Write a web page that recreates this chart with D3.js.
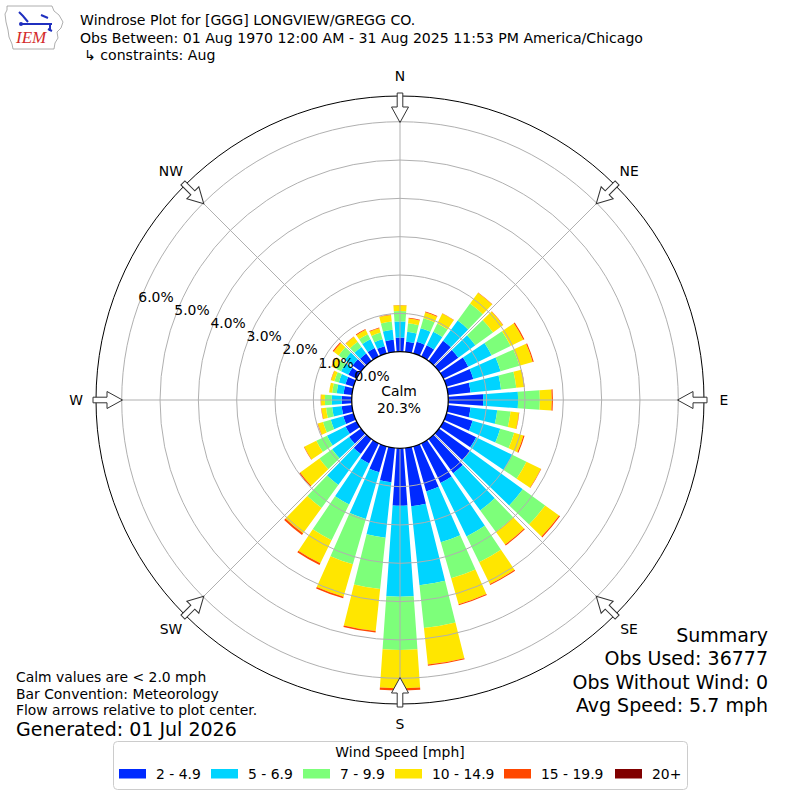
<!DOCTYPE html>
<html>
<head>
<meta charset="utf-8">
<script src="https://cdn.jsdelivr.net/npm/d3@7"></script>
<style>
  body { margin: 0; background: #fff; }
  svg { display: block; font-family: "DejaVu Sans", sans-serif; }
</style>
</head>
<body>
<svg id="chart" width="800" height="800"></svg>
<script>
// direction bins in degrees (meteorological, wind from)
const directions = d3.range(0, 360, 10);
const speedBins = ["2 - 4.9", "5 - 6.9", "7 - 9.9", "10 - 14.9", "15 - 19.9", "20+"];
const binColors = ["#002aff", "#00d4ff", "#7dff7a", "#ffe600", "#ff4800", "#800000"];

// frequency (%) per direction, one array per speed bin
const pct2to5 = [0.37, 0.27, 0.32, 0.33, 0.65, 0.62, 0.72, 0.73, 0.59, 0.91, 0.59, 0.71,
                 0.95, 1.00, 1.10, 1.15, 1.22, 1.53, 1.50, 0.90, 0.70, 0.58, 0.48, 0.38,
                 0.32, 0.28, 0.27, 0.26, 0.22, 0.22, 0.24, 0.27, 0.24, 0.25, 0.20, 0.32];
const pct5to7 = [0.42, 0.26, 0.37, 0.39, 0.65, 0.55, 0.68, 0.74, 0.80, 0.91, 0.70, 0.75,
                 1.05, 1.70, 1.20, 1.55, 1.38, 2.07, 2.37, 1.45, 1.27, 1.19, 1.00, 0.55,
                 0.54, 0.34, 0.25, 0.26, 0.18, 0.18, 0.21, 0.25, 0.21, 0.25, 0.19, 0.26];
const pct7to10 = [0.27, 0.22, 0.27, 0.24, 0.55, 0.57, 0.55, 0.51, 0.40, 0.57, 0.35, 0.38,
                  0.41, 0.72, 0.69, 0.75, 0.98, 1.12, 1.39, 1.35, 1.23, 1.04, 0.74, 0.41,
                  0.31, 0.21, 0.16, 0.18, 0.12, 0.12, 0.15, 0.20, 0.17, 0.15, 0.18, 0.22];
const pct10to15 = [0.15, 0.13, 0.16, 0.29, 0.35, 0.32, 0.37, 0.36, 0.21, 0.31, 0.22, 0.25,
                   0.42, 0.45, 0.41, 0.63, 0.70, 0.96, 1.00, 1.10, 0.88, 0.67, 0.82, 0.62,
                   0.35, 0.14, 0.12, 0.10, 0.08, 0.09, 0.12, 0.16, 0.16, 0.13, 0.12, 0.17];
const pct15to20 = [0.01, 0.02, 0.02, 0.01, 0.01, 0.01, 0.03, 0.03, 0.01, 0.03, 0.01, 0.03,
                   0.01, 0.03, 0.03, 0.03, 0.03, 0.03, 0.06, 0.04, 0.04, 0.05, 0.05, 0.03,
                   0.01, 0.01, 0.01, 0.01, 0.00, 0.01, 0.01, 0.03, 0.01, 0.02, 0.02, 0.01];
const pct20plus = [0, 0, 0, 0, 0, 0, 0, 0, 0, 0, 0, 0,
                   0, 0, 0, 0, 0, 0, 0, 0, 0, 0, 0, 0,
                   0, 0, 0, 0, 0, 0, 0, 0, 0, 0, 0, 0];

const radialTicks = [0, 1, 2, 3, 4, 5, 6];
const compassLabels = ["N", "NE", "E", "SE", "S", "SW", "W", "NW"];
const calmPct = 20.3;

const titleLines = [
  "Windrose Plot for [GGG] LONGVIEW/GREGG CO.",
  "Obs Between: 01 Aug 1970 12:00 AM - 31 Aug 2025 11:53 PM America/Chicago"
];
const constraintLine = "\u21b3 constraints: Aug";
const footLeft = ["Calm values are < 2.0 mph", "Bar Convention: Meteorology",
                  "Flow arrows relative to plot center."];
const generated = "Generated: 01 Jul 2026";
const summaryLines = ["Summary", "Obs Used: 36777", "Obs Without Wind: 0", "Avg Speed: 5.7 mph"];

// ---- layout
const svg = d3.select("#chart");
const cx = 400, cy = 400;
const calmR = 48.3;
const frameR = 304;
const rScale = d3.scaleLinear().domain([0, 6]).range([calmR, 278.3]);
const rad = deg => deg * Math.PI / 180;
const halfWidth = 4; // degrees each side of bin centre

const seriesArrays = [pct2to5, pct5to7, pct7to10, pct10to15, pct15to20, pct20plus];
const rows = directions.map((dir, i) => {
  const row = { dir };
  speedBins.forEach((k, j) => { row[k] = seriesArrays[j][i]; });
  return row;
});
const stacked = d3.stack().keys(speedBins)(rows);
const color = d3.scaleOrdinal().domain(speedBins).range(binColors);

const plot = svg.append("g").attr("transform", `translate(${cx},${cy})`);

// bars
const arc = d3.arc()
  .innerRadius(d => rScale(d[0]))
  .outerRadius(d => rScale(d[1]))
  .startAngle(d => rad(d.data.dir - halfWidth))
  .endAngle(d => rad(d.data.dir + halfWidth));

plot.selectAll("g.layer")
  .data(stacked)
  .join("g")
  .attr("class", "layer")
  .attr("fill", d => color(d.key))
  .selectAll("path")
  .data(d => d.filter(s => s[1] - s[0] > 0))
  .join("path")
  .attr("d", arc);

// grid rings and spokes (drawn over the bars)
plot.selectAll("circle.ring")
  .data(radialTicks.filter(t => t > 0))
  .join("circle")
  .attr("class", "ring")
  .attr("r", d => rScale(d))
  .attr("fill", "none")
  .attr("stroke", "#b0b0b0")
  .attr("stroke-width", 1);

plot.selectAll("line.spoke")
  .data(compassLabels.map((_, i) => i * 45))
  .join("line")
  .attr("class", "spoke")
  .attr("x1", 0).attr("y1", 0)
  .attr("x2", d => frameR * Math.sin(rad(d)))
  .attr("y2", d => -frameR * Math.cos(rad(d)))
  .attr("stroke", "#b0b0b0")
  .attr("stroke-width", 1);

// frame
plot.append("circle")
  .attr("r", frameR)
  .attr("fill", "none")
  .attr("stroke", "#000")
  .attr("stroke-width", 1);

// calm circle
plot.append("circle")
  .attr("r", calmR)
  .attr("fill", "#fff")
  .attr("stroke", "#000")
  .attr("stroke-width", 1.3);

plot.append("text")
  .attr("x", -1).attr("y", -4)
  .attr("text-anchor", "middle")
  .attr("font-size", 13.9)
  .text("Calm");
plot.append("text")
  .attr("x", -1).attr("y", 13)
  .attr("text-anchor", "middle")
  .attr("font-size", 13.9)
  .text(d3.format(".1f")(calmPct) + "%");

// radial tick labels
const labAng = rad(20);
plot.selectAll("text.rlab")
  .data(radialTicks)
  .join("text")
  .attr("class", "rlab")
  .attr("x", d => -rScale(d) * Math.cos(labAng) + 17.5)
  .attr("y", d => -rScale(d) * Math.sin(labAng) - 7.8)
  .attr("dy", "0.36em")
  .attr("text-anchor", "middle")
  .attr("font-size", 13.9)
  .text(d => d3.format(".1f")(d) + "%");

// flow arrows pointing toward the centre
const arrowPts = [[-2.8, -307], [2.8, -307], [2.8, -293], [8.5, -293], [0, -277.5],
                  [-8.5, -293], [-2.8, -293]];
plot.selectAll("path.arrow")
  .data(compassLabels.map((_, i) => i * 45))
  .join("path")
  .attr("class", "arrow")
  .attr("d", d3.line()(arrowPts) + "Z")
  .attr("transform", d => `rotate(${d})`)
  .attr("fill", "#fff")
  .attr("stroke", "#333")
  .attr("stroke-width", 1);

// compass labels
plot.selectAll("text.compass")
  .data(compassLabels)
  .join("text")
  .attr("class", "compass")
  .attr("x", (d, i) => 324 * Math.sin(rad(i * 45)))
  .attr("y", (d, i) => -324 * Math.cos(rad(i * 45)))
  .attr("dy", "0.36em")
  .attr("text-anchor", "middle")
  .attr("font-size", 13.9)
  .text(d => d);

// ---- header
svg.selectAll("text.title")
  .data(titleLines)
  .join("text")
  .attr("class", "title")
  .attr("x", 80)
  .attr("y", (d, i) => 25 + i * 17.5)
  .attr("font-size", 14.1)
  .text(d => d);
svg.append("text")
  .attr("x", 84).attr("y", 59.5)
  .attr("font-size", 14.1)
  .text(constraintLine);

// IEM logo (simplified)
const logo = svg.append("g");
logo.append("path")
  .attr("d", d3.line()([[7, 6], [52, 6], [54, 11], [59, 15], [63, 22], [61, 28], [57, 32],
                        [58, 38], [55, 43], [54, 49], [13, 49], [12, 44], [9, 37], [8, 30],
                        [6, 22], [5, 14], [7, 10]]) + "Z")
  .attr("fill", "none")
  .attr("stroke", "#999")
  .attr("stroke-width", 0.8);
logo.append("path")
  .attr("d", "M22,24 L52,24 M19,12 L23,16 L28,22 M41,15 L48,18 M50,24 L50,31 M48,29 L52,31")
  .attr("fill", "none")
  .attr("stroke", "#1f2fbf")
  .attr("stroke-width", 2);
logo.append("circle").attr("cx", 21).attr("cy", 24).attr("r", 2).attr("fill", "#1f2fbf");
logo.append("text")
  .attr("x", 16).attr("y", 43)
  .attr("font-family", "'Liberation Serif', serif")
  .attr("font-style", "italic")
  .attr("font-size", 17)
  .attr("fill", "#d42a2a")
  .text("IEM");

// ---- footer text
svg.selectAll("text.footl")
  .data(footLeft)
  .join("text")
  .attr("class", "footl")
  .attr("x", 16)
  .attr("y", (d, i) => 682 + i * 16.5)
  .attr("font-size", 13.9)
  .text(d => d);
svg.append("text")
  .attr("x", 16).attr("y", 736)
  .attr("font-size", 19)
  .text(generated);

svg.selectAll("text.summary")
  .data(summaryLines)
  .join("text")
  .attr("class", "summary")
  .attr("x", 768)
  .attr("y", (d, i) => 642 + i * 23.3)
  .attr("text-anchor", "end")
  .attr("font-size", 19)
  .text(d => d);

// ---- legend
const legend = svg.append("g");
legend.append("rect")
  .attr("x", 113.5).attr("y", 741.5)
  .attr("width", 574).attr("height", 48)
  .attr("rx", 4)
  .attr("fill", "#fff")
  .attr("stroke", "#cccccc");
legend.append("text")
  .attr("x", 400).attr("y", 757)
  .attr("text-anchor", "middle")
  .attr("font-size", 13.9)
  .text("Wind Speed [mph]");
const swatchX = [119, 211, 303, 395, 504, 615];
const item = legend.selectAll("g.item")
  .data(speedBins)
  .join("g")
  .attr("class", "item")
  .attr("transform", (d, i) => `translate(${swatchX[i]},0)`);
item.append("rect")
  .attr("x", 0).attr("y", 769)
  .attr("width", 27).attr("height", 9.5)
  .attr("fill", d => color(d));
item.append("text")
  .attr("x", 37).attr("y", 779)
  .attr("font-size", 13.9)
  .text(d => d);
</script>
</body>
</html>
